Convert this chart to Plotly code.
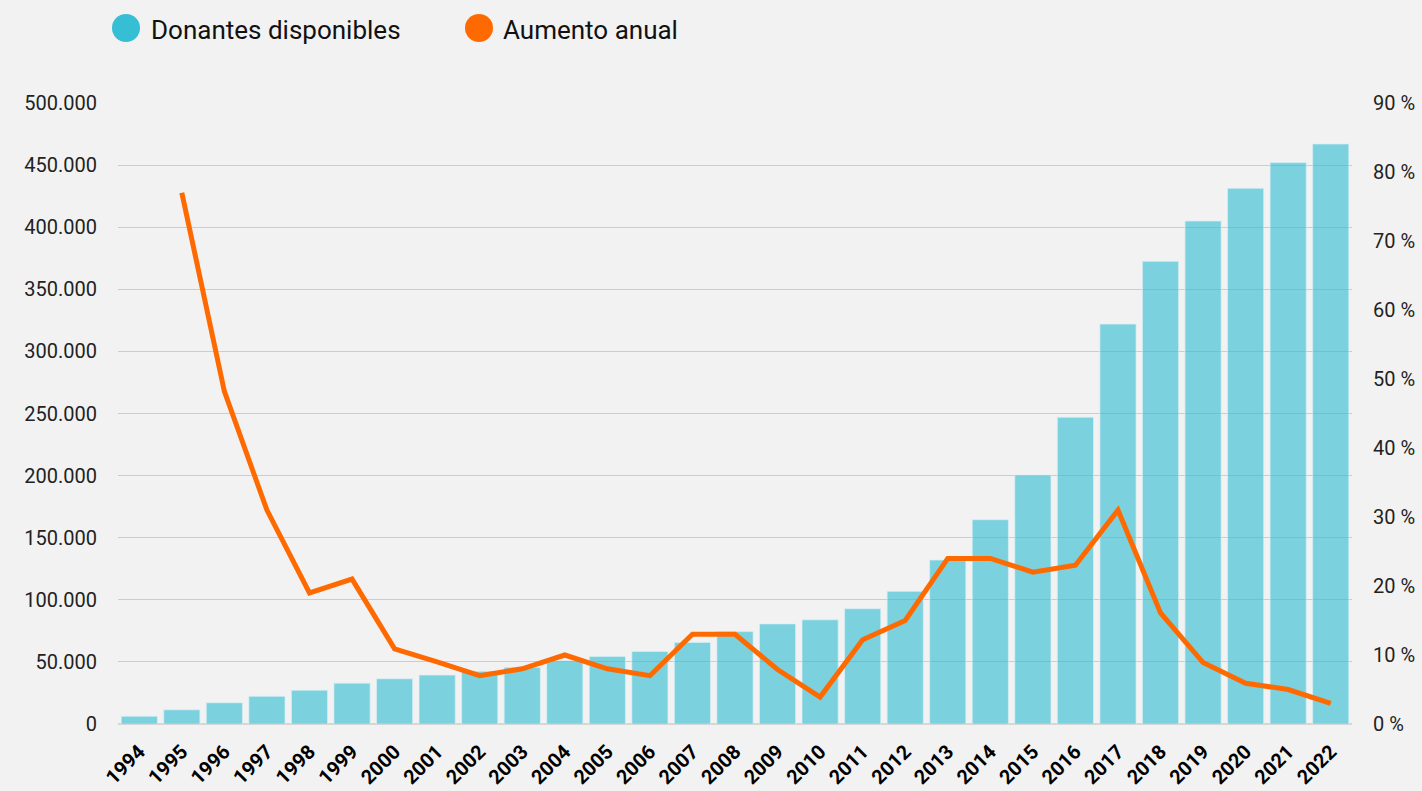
import plotly.graph_objects as go

years = [str(y) for y in range(1994, 2023)]
donantes = [6200, 11400, 17100, 22300, 27200, 32900, 36400, 39400, 42500, 45600,
            51000, 54300, 58400, 65700, 74400, 80600, 83900, 92800, 106800, 132000,
            164500, 200500, 247000, 322000, 372500, 405000, 431300, 452000, 467000]
aumento = [None, 77.0, 48.2, 31.0, 19.0, 21.0, 10.9, 9.0, 7.0, 8.0,
           10.0, 8.0, 7.0, 13.0, 13.0, 7.9, 3.9, 12.2, 15.0, 24.0,
           24.0, 22.0, 23.0, 31.0, 16.1, 8.9, 5.9, 5.0, 3.0]
left_ticks = [0, 50000, 100000, 150000, 200000, 250000, 300000, 350000, 400000, 450000, 500000]
right_ticks = [0, 10, 20, 30, 40, 50, 60, 70, 80, 90]
right_labels = [f"{v} %" for v in right_ticks]
legend_labels = ["Donantes disponibles", "Aumento anual"]

BG = "#F2F2F2"
BAR = "rgba(45,186,210,0.6)"
BAR_LEG = "#36BED4"
LINE = "#FF6A00"
FONT = "Roboto"

W, H = 1422, 791
L, R, T, B = 118, 70, 103, 67

fig = go.Figure()
fig.add_trace(go.Bar(
    x=years, y=donantes, name=legend_labels[0],
    marker=dict(color=BAR, line=dict(color="rgba(215,240,245,0.7)", width=1)),
    showlegend=False, yaxis="y"))
fig.add_trace(go.Scatter(
    x=years, y=aumento, name=legend_labels[1], mode="lines",
    line=dict(color=LINE, width=5), showlegend=False, yaxis="y2",
    connectgaps=False))

pw = W - L - R
ph = H - T - B

def px2paper_x(px):
    return (px - L) / pw

def px2paper_y(py):
    return (H - B - py) / ph

shapes = []
annotations = []
leg_items = [(126, 28, BAR_LEG, 149, legend_labels[0]),
             (479, 28, LINE, 501, legend_labels[1])]
for cx, cy, col, tx, label in leg_items:
    shapes.append(dict(type="circle", xref="paper", yref="paper",
                       xsizemode="pixel", ysizemode="pixel",
                       xanchor=px2paper_x(cx), yanchor=px2paper_y(cy),
                       x0=-14, x1=14, y0=-14, y1=14,
                       fillcolor=col, line=dict(width=0)))
    annotations.append(dict(xref="paper", yref="paper",
                            x=px2paper_x(tx), y=px2paper_y(30),
                            xanchor="left", yanchor="middle", showarrow=False,
                            text=label, font=dict(family=FONT, size=26, color="#111111")))

fig.update_layout(
    width=W, height=H,
    margin=dict(l=L, r=R, t=T, b=B, pad=0, autoexpand=False),
    paper_bgcolor=BG, plot_bgcolor=BG,
    separators=",.",
    bargap=0.15,
    font=dict(family=FONT, color="#222222"),
    shapes=shapes, annotations=annotations,
    xaxis=dict(type="category", tickangle=-45, automargin=False,
               tickfont=dict(family=FONT, size=20, color="#000000", weight="bold"),
               showgrid=False, showline=False, ticks="", zeroline=False,
               ticklabelstandoff=11),
    yaxis=dict(range=[0, 500000], tickvals=left_ticks, tickformat=",d", automargin=False,
               showgrid=True, gridcolor="#CCCCCC", gridwidth=1.2,
               zeroline=True, zerolinecolor="#D6D6D6", zerolinewidth=2,
               tickfont=dict(family=FONT, size=20, color="#222222"),
               ticks="", showline=False, ticklabelstandoff=20),
    yaxis2=dict(range=[0, 90], tickmode="array", tickvals=right_ticks, ticktext=right_labels,
                overlaying="y", side="right", showgrid=False, zeroline=False, automargin=False,
                tickfont=dict(family=FONT, size=20, color="#222222"),
                ticks="", showline=False, ticklabelstandoff=20),
)

fig.write_html("out.html", config={"displayModeBar": False},
               post_script="document.body.style.margin='0';")
